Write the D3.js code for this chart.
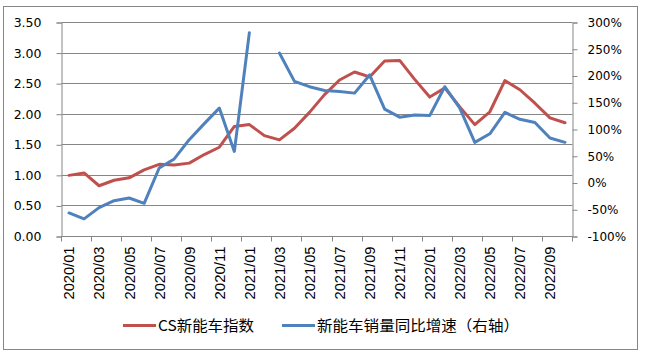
<!DOCTYPE html>
<html>
<head>
<meta charset="utf-8">
<script src="https://cdn.jsdelivr.net/npm/d3@7"></script>
<style>
  html, body { margin: 0; padding: 0; background: #fff; }
  svg { display: block; }
</style>
</head>
<body>
<script>
// ---- data ----
const categories = [
  "2020/01","2020/02","2020/03","2020/04","2020/05","2020/06","2020/07","2020/08","2020/09","2020/10","2020/11","2020/12",
  "2021/01","2021/02","2021/03","2021/04","2021/05","2021/06","2021/07","2021/08","2021/09","2021/10","2021/11","2021/12",
  "2022/01","2022/02","2022/03","2022/04","2022/05","2022/06","2022/07","2022/08","2022/09","2022/10"
];
const csIndex = [
  1.00, 1.04, 0.83, 0.92, 0.96, 1.09, 1.18, 1.17, 1.20, 1.34, 1.46, 1.80,
  1.83, 1.65, 1.58, 1.77, 2.03, 2.32, 2.56, 2.69, 2.61, 2.87, 2.88, 2.57,
  2.28, 2.43, 2.12, 1.83, 2.04, 2.55, 2.40, 2.18, 1.94, 1.86
];
const salesYoY = [
  -56, -67, -46, -33, -28, -38, 28, 45, 81, 111, 140, 59,
  281, null, 243, 190, 180, 173, 171, 168, 202, 138, 123, 127,
  126, 180, 140, 76, 92, 132, 119, 113, 84, 76
];
const leftTicks = [0, 0.5, 1.0, 1.5, 2.0, 2.5, 3.0, 3.5];
const rightTicks = [-100, -50, 0, 50, 100, 150, 200, 250, 300];
const seriesNames = ["CS新能车指数", "新能车销量同比增速（右轴）"];
const seriesColors = ["#C0504D", "#4F81BD"];

// ---- layout ----
const W = 645, H = 356;
const plot = { left: 61.5, right: 572.5, top: 22.5, bottom: 236.5 };
const gridColor = "#868686";
const numFont = "'DejaVu Sans', sans-serif";
const cjkFont = "'Noto Sans CJK SC', 'Noto Sans', sans-serif";

const svg = d3.select("body").append("svg").attr("width", W).attr("height", H);

// outer frame
svg.append("rect").attr("x", 3.5).attr("y", 6.5).attr("width", 634).attr("height", 343)
  .attr("fill", "#fff").attr("stroke", gridColor).attr("stroke-width", 1);

const x = d3.scaleBand().domain(categories).range([plot.left, plot.right]).padding(0);
const yL = d3.scaleLinear().domain([0, 3.5]).range([plot.bottom, plot.top]);
const yR = d3.scaleLinear().domain([-100, 300]).range([plot.bottom, plot.top]);

// gridlines
svg.append("g").selectAll("line").data(leftTicks).join("line")
  .attr("x1", plot.left).attr("x2", plot.right)
  .attr("y1", d => Math.round(yL(d) - 0.5) + 0.5).attr("y2", d => Math.round(yL(d) - 0.5) + 0.5)
  .attr("stroke", gridColor).attr("stroke-width", 1);

// left axis
const gL = svg.append("g").attr("transform", `translate(${plot.left},0)`)
  .call(d3.axisLeft(yL).tickValues(leftTicks).tickSize(5).tickPadding(15).tickFormat(d3.format(".2f")));
gL.select(".domain").attr("stroke", gridColor);
gL.selectAll(".tick line").attr("stroke", gridColor);
gL.selectAll(".tick text").attr("font-family", numFont).attr("font-size", 12.5).attr("fill", "#000");

// right axis
const gR = svg.append("g").attr("transform", `translate(${plot.right},0)`)
  .call(d3.axisRight(yR).tickValues(rightTicks).tickSize(5).tickPadding(10).tickFormat(d => d + "%"));
gR.select(".domain").attr("stroke", gridColor);
gR.selectAll(".tick line").attr("stroke", gridColor);
gR.selectAll(".tick text").attr("font-family", numFont).attr("font-size", 12).attr("fill", "#000");

// x axis line
svg.append("line").attr("x1", plot.left).attr("x2", plot.right)
  .attr("y1", plot.bottom).attr("y2", plot.bottom).attr("stroke", gridColor);

// x ticks at every other category boundary
const tickCats = categories.filter((c, i) => i % 2 === 0);
const tickXs = tickCats.map(c => x(c)).concat([x.range()[1]]);
svg.append("g").selectAll("line").data(tickXs).join("line")
  .attr("x1", d => Math.round(d - 0.5) + 0.5).attr("x2", d => Math.round(d - 0.5) + 0.5)
  .attr("y1", plot.bottom).attr("y2", plot.bottom + 5)
  .attr("stroke", gridColor);

// x labels (rotated)
svg.append("g").selectAll("text").data(tickCats).join("text")
  .attr("transform", d => `translate(${x(d) + x.bandwidth() / 2},${plot.bottom + 10}) rotate(-90)`)
  .attr("text-anchor", "end").attr("dy", "0.36em")
  .attr("font-family", "'Liberation Sans', sans-serif").attr("font-size", 15)
  .attr("textLength", 53).attr("lengthAdjust", "spacingAndGlyphs")
  .attr("fill", "#000").text(d => d);

// lines
const cx = d => x(d) + x.bandwidth() / 2;
const redLine = d3.line().x((d, i) => cx(categories[i])).y(d => yL(d));
const blueLine = d3.line().defined(d => d != null).x((d, i) => cx(categories[i])).y(d => yR(d));

svg.append("path").datum(csIndex).attr("d", redLine)
  .attr("fill", "none").attr("stroke", seriesColors[0]).attr("stroke-width", 3)
  .attr("stroke-linejoin", "round").attr("stroke-linecap", "round");
svg.append("path").datum(salesYoY).attr("d", blueLine)
  .attr("fill", "none").attr("stroke", seriesColors[1]).attr("stroke-width", 3)
  .attr("stroke-linejoin", "round").attr("stroke-linecap", "round");

// legend
const legendItems = [
  { name: seriesNames[0], color: seriesColors[0], x0: 123, len: 96 },
  { name: seriesNames[1], color: seriesColors[1], x0: 282, len: 202 }
];
const ly = 325.5;
const lg = svg.append("g");
legendItems.forEach(it => {
  lg.append("line").attr("x1", it.x0).attr("x2", it.x0 + 33).attr("y1", ly).attr("y2", ly)
    .attr("stroke", it.color).attr("stroke-width", 3);
  lg.append("text").attr("x", it.x0 + 35).attr("y", ly).attr("dy", "0.36em")
    .attr("font-family", cjkFont).attr("font-size", 15)
    .attr("textLength", it.len).attr("lengthAdjust", "spacingAndGlyphs")
    .attr("fill", "#000").text(it.name);
});
</script>
</body>
</html>
